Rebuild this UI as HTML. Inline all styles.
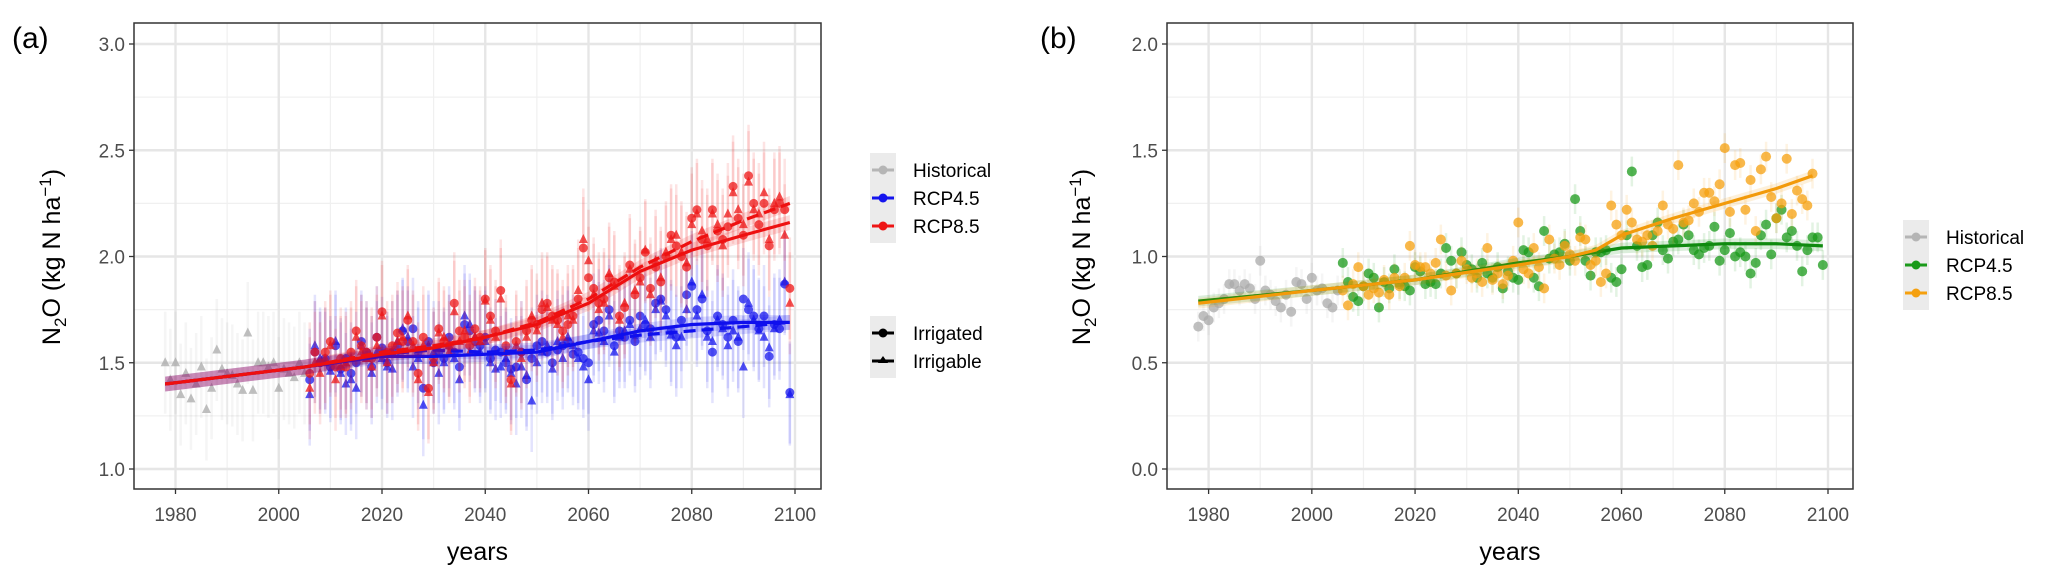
<!DOCTYPE html>
<html><head><meta charset="utf-8">
<style>
html,body{margin:0;padding:0;background:#fff;}
svg{display:block;font-family:"Liberation Sans",sans-serif;}
</style></head>
<body>
<svg id="chart" width="2067" height="584" viewBox="0 0 2067 584" xmlns="http://www.w3.org/2000/svg"></svg>
<script>
// ---------- Panel A data ----------
const histYearsA0 = 1978;
const histA = [1.50,1.42,1.50,1.35,1.45,1.33,1.40,1.48,1.28,1.38,1.56,1.47,1.45,1.44,1.40,1.37,1.64,1.37,1.50,1.50,1.48,1.50,1.38,1.47,1.45,1.43,1.50,1.45];
const futStart = 2006;
const rcp45IrrigatedA = [1.42,1.55,1.50,1.52,1.48,1.58,1.47,1.52,1.45,1.50,1.60,1.55,1.48,1.62,1.57,1.50,1.55,1.58,1.65,1.60,1.66,1.55,1.38,1.60,1.50,1.55,1.52,1.62,1.55,1.48,1.68,1.65,1.60,1.58,1.62,1.52,1.56,1.55,1.50,1.47,1.48,1.55,1.42,1.52,1.58,1.60,1.55,1.50,1.56,1.58,1.60,1.54,1.55,1.52,1.50,1.68,1.70,1.65,1.75,1.58,1.65,1.62,1.70,1.60,1.72,1.68,1.66,1.78,1.80,1.75,1.65,1.62,1.70,1.82,1.86,1.75,1.80,1.65,1.55,1.72,1.68,1.62,1.70,1.60,1.80,1.75,1.72,1.66,1.72,1.53,1.68,1.66,1.87,1.36];
const rcp45IrrigableA = [1.35,1.58,1.52,1.50,1.46,1.60,1.45,1.40,1.42,1.38,1.58,1.52,1.45,1.55,1.52,1.48,1.47,1.60,1.66,1.62,1.48,1.52,1.30,1.58,1.55,1.45,1.50,1.58,1.52,1.42,1.72,1.68,1.62,1.55,1.60,1.50,1.47,1.48,1.52,1.45,1.40,1.48,1.44,1.32,1.50,1.55,1.58,1.47,1.60,1.52,1.62,1.58,1.52,1.48,1.42,1.65,1.64,1.60,1.72,1.55,1.62,1.65,1.68,1.63,1.66,1.70,1.62,1.75,1.79,1.72,1.63,1.58,1.62,1.75,1.88,1.72,1.82,1.62,1.60,1.70,1.66,1.58,1.65,1.62,1.48,1.78,1.70,1.65,1.62,1.57,1.66,1.70,1.88,1.35];
const rcp85IrrigatedA = [1.45,1.55,1.50,1.55,1.60,1.48,1.52,1.48,1.55,1.65,1.58,1.55,1.52,1.62,1.74,1.55,1.58,1.64,1.60,1.70,1.60,1.45,1.62,1.38,1.52,1.66,1.60,1.58,1.78,1.65,1.62,1.58,1.66,1.62,1.80,1.72,1.65,1.84,1.58,1.42,1.60,1.55,1.65,1.70,1.68,1.75,1.78,1.72,1.70,1.65,1.68,1.72,1.80,2.04,1.90,1.85,1.78,1.80,1.90,1.88,1.72,1.76,1.96,1.82,1.90,2.02,1.85,1.95,1.88,2.00,2.10,2.05,2.00,1.95,2.18,2.22,2.08,2.05,2.22,2.12,2.08,2.14,2.33,2.18,2.10,2.38,2.25,2.15,2.25,2.05,2.22,2.25,2.22,1.85];
const rcp85IrrigableA = [1.38,1.50,1.45,1.52,1.58,1.42,1.48,1.50,1.52,1.62,1.55,1.52,1.48,1.58,1.72,1.50,1.55,1.60,1.62,1.72,1.58,1.42,1.58,1.36,1.50,1.64,1.62,1.55,1.74,1.60,1.65,1.55,1.62,1.60,1.79,1.70,1.62,1.80,1.55,1.40,1.58,1.52,1.62,1.72,1.65,1.78,1.76,1.70,1.68,1.62,1.72,1.70,1.84,2.08,1.98,1.82,1.75,1.78,1.92,1.86,1.70,1.78,1.94,1.84,1.88,2.03,1.82,1.98,1.90,2.02,2.08,2.10,2.02,1.97,2.15,2.20,2.12,2.08,2.20,2.15,2.05,2.20,2.30,2.22,2.15,2.35,2.22,2.20,2.30,2.08,2.25,2.28,2.10,1.78];
const fitYearsA = [1978,2005,2020,2030,2040,2050,2060,2070,2080,2090,2099];
const fit45SolidA = [1.40,1.48,1.53,1.53,1.54,1.55,1.60,1.65,1.68,1.69,1.69];
const fit45DashA  = [1.40,1.48,1.54,1.56,1.55,1.56,1.60,1.63,1.65,1.67,1.69];
const fit85SolidA = [1.40,1.48,1.54,1.57,1.62,1.68,1.78,1.93,2.03,2.10,2.16];
const fit85DashA  = [1.40,1.48,1.55,1.58,1.62,1.69,1.80,1.95,2.07,2.17,2.25];
const errA = [0.24];
// ---------- Panel B data ----------
const histB = [0.67,0.72,0.70,0.76,0.78,0.80,0.87,0.87,0.84,0.87,0.85,0.80,0.98,0.84,0.82,0.79,0.76,0.82,0.74,0.88,0.87,0.80,0.90,0.84,0.85,0.78,0.76,0.84];
const rcp45B = [0.97,0.88,0.81,0.79,0.86,0.92,0.90,0.76,0.88,0.85,0.94,0.87,0.86,0.84,0.95,0.93,0.87,0.88,0.87,0.92,1.04,0.98,0.92,1.02,0.96,0.94,0.90,0.97,0.92,0.90,0.95,0.85,0.93,0.90,0.89,1.03,1.02,0.90,0.86,1.12,0.99,1.01,1.02,1.06,0.98,1.27,1.12,0.98,0.91,1.02,1.02,1.03,0.90,0.88,0.94,1.10,1.40,1.05,0.95,0.96,1.10,1.16,1.03,0.99,1.07,1.08,1.15,1.10,1.03,1.01,1.04,1.05,1.14,0.98,1.03,1.11,1.00,1.02,1.00,0.92,0.97,1.10,1.15,1.01,1.18,1.22,1.09,1.12,1.05,0.93,1.03,1.09,1.09,0.96];
const rcp85B = [0.84,0.77,0.87,0.95,0.86,0.82,0.85,0.83,0.89,0.82,0.90,0.86,0.90,1.05,0.96,0.95,0.95,0.92,0.97,1.08,0.91,0.84,0.92,0.98,0.94,0.90,0.92,0.88,1.04,0.89,0.92,0.87,0.91,0.98,1.16,0.94,0.92,1.04,0.95,0.85,1.08,0.99,0.96,1.05,1.01,0.98,1.09,1.08,0.96,0.98,0.88,0.92,1.24,1.15,1.10,1.22,1.16,1.08,1.07,1.10,1.05,1.12,1.24,1.15,1.13,1.43,1.16,1.17,1.25,1.21,1.30,1.30,1.26,1.34,1.51,1.21,1.43,1.44,1.22,1.36,1.12,1.41,1.47,1.28,1.18,1.25,1.46,1.20,1.31,1.27,1.24,1.39];
const fitYears45B = [1978,2000,2020,2040,2050,2060,2070,2080,2090,2099];
const fit45B = [0.79,0.84,0.89,0.97,1.00,1.04,1.05,1.06,1.06,1.05];
const fitYears85B = [1978,2000,2020,2040,2050,2055,2060,2070,2080,2090,2097];
const fit85B = [0.78,0.84,0.89,0.96,1.00,1.03,1.10,1.18,1.25,1.32,1.38];
const errB = [0.07];
const yTicksA = ["1.0","1.5","2.0","2.5","3.0"];
const yTicksB = ["0.0","0.5","1.0","1.5","2.0"];
const xTicks = [1980,2000,2020,2040,2060,2080,2100];

const NS="http://www.w3.org/2000/svg";
const svg=document.getElementById('chart');
function el(tag,attrs,parent,text){const e=document.createElementNS(NS,tag);for(const k in attrs)e.setAttribute(k,attrs[k]);if(text!==undefined)e.textContent=text;(parent||svg).appendChild(e);return e;}

function panel(cfg){
  const g=el('g',{});
  
  
  const L=cfg.left,R=cfg.right,T=23,B=489;
  const sx=y=>cfg.x1980+(y-1980)*(cfg.x2100-cfg.x1980)/120;
  const sy=v=>469-(v-cfg.ymin)*(425/(cfg.ymax-cfg.ymin));
  for(let v=cfg.ymin+ (cfg.ymax-cfg.ymin)/8; v<cfg.ymax+0.3; v+=(cfg.ymax-cfg.ymin)/4){const y=sy(v);if(y>T&&y<B)el('line',{x1:L,x2:R,y1:y,y2:y,stroke:'#f0f0f0','stroke-width':1.2},g);}
  for(let yr=1970;yr<=2110;yr+=20){const x=sx(yr);if(x>L&&x<R)el('line',{x1:x,x2:x,y1:T,y2:B,stroke:'#f0f0f0','stroke-width':1.2},g);}
  cfg.yTicks.forEach(t=>{const y=sy(+t);const gl=el('line',{x1:L,x2:R,y1:y,y2:y,stroke:'#e6e6e6','stroke-width':2.4},g);
    
    el('line',{x1:L-5,x2:L,y1:y,y2:y,stroke:'#333','stroke-width':1.3},g);
    const tl=el('text',{x:L-9,y:y+7,'text-anchor':'end','font-size':19,fill:'#4d4d4d'},g,t);
    });
  xTicks.forEach(t=>{const x=sx(t);el('line',{x1:x,x2:x,y1:T,y2:B,stroke:'#e6e6e6','stroke-width':2.4},g);
    el('line',{x1:x,x2:x,y1:B,y2:B+5,stroke:'#333','stroke-width':1.3},g);
    const tl=el('text',{x:x,y:521,'text-anchor':'middle','font-size':19,fill:'#4d4d4d'},g,t);
    });
  cfg.draw(g,sx,sy);
  el('rect',{x:L,y:T,width:R-L,height:B-T,fill:'none',stroke:'#333','stroke-width':1.5},g);
  const pl=el('text',{x:cfg.labelX,y:48,'font-size':30,fill:'#000'},g,cfg.label);
  
  const xt=el('text',{x:(L+R)/2,y:560,'text-anchor':'middle','font-size':25,fill:'#000'},g,'years');
  
  const yt=el('text',{transform:`translate(${cfg.ytX},257) rotate(-90)`,'text-anchor':'middle','font-size':25,fill:'#000'},g);
  
  yt.innerHTML='N<tspan font-size="17" dy="6">2</tspan><tspan dy="-6">O (kg N ha</tspan><tspan font-size="17" dy="-9">−1</tspan><tspan dy="9">)</tspan>';
  return g;
}
function pts(g,data,start,color,shape,err,sx,sy,r,name){
  data.forEach((v,i)=>{const x=sx(start+i);
    el('line',{x1:x,x2:x,y1:sy(v-err),y2:sy(v+err),stroke:color,'stroke-opacity':0.12,'stroke-width':2.5},g);});
  data.forEach((v,i)=>{const x=sx(start+i),y=sy(v);let m;
    if(shape==='c')m=el('circle',{cx:x,cy:y,r:r,fill:color,'fill-opacity':0.75},g);
    else m=el('polygon',{points:`${x},${y-r-1} ${x-r},${y+r-1} ${x+r},${y+r-1}`,fill:color,'fill-opacity':0.75},g);
    
    });
}
function fit(g,years,vals,color,sx,sy,band,dash,name){
  let up='',dn='';years.forEach((yr,i)=>{up+=(i?'L':'M')+sx(yr)+','+sy(vals[i]+band);});
  for(let i=years.length-1;i>=0;i--)dn+='L'+sx(years[i])+','+sy(vals[i]-band);
  el('path',{d:up+dn+'Z',fill:color,'fill-opacity':0.15,stroke:'none'},g);
  let d='';years.forEach((yr,i)=>{d+=(i?'L':'M')+sx(yr)+','+sy(vals[i]);});
  const p=el('path',{d:d,fill:'none',stroke:color,'stroke-width':3.2,'stroke-dasharray':dash?'12,6':'none','stroke-linejoin':'round'},g);
  
}
function legend(g,x,items,boxY){
  const h=items.length*28+6;
  el('rect',{x:x,y:boxY,width:26,height:h,fill:'#ebebeb'},g);
  items.forEach((it,i)=>{const y=boxY+17+i*28;
    const li=el('g',{},g);
    el('line',{x1:x+2,x2:x+24,y1:y,y2:y,stroke:it.c,'stroke-width':3},li);
    if(it.s==='t')el('polygon',{points:`${x+13},${y-5} ${x+8},${y+2} ${x+18},${y+2}`,fill:it.c},li);
    else el('circle',{cx:x+13,cy:y,r:4.5,fill:it.c},li);
    el('text',{x:x+43,y:y+7,'font-size':19,fill:'#000'},li,it.t);});
}
panel({name:'panel-a',left:134,right:821,x1980:175.5,x2100:795,ymin:1,ymax:3,yTicks:yTicksA,label:'(a)',labelX:12,ytX:60,
 draw:(g,sx,sy)=>{
  pts(g,histA,histYearsA0,'#a9a9a9','t',errA[0],sx,sy,4.5,'historical-point');
  pts(g,rcp45IrrigatedA,futStart,'#1515ee','c',errA[0],sx,sy,4.5,'rcp45-irrigated-point');
  pts(g,rcp45IrrigableA,futStart,'#1515ee','t',errA[0],sx,sy,4.5,'rcp45-irrigable-point');
  pts(g,rcp85IrrigatedA,futStart,'#ee1515','c',errA[0],sx,sy,4.5,'rcp85-irrigated-point');
  pts(g,rcp85IrrigableA,futStart,'#ee1515','t',errA[0],sx,sy,4.5,'rcp85-irrigable-point');
  fit(g,fitYearsA,fit45SolidA,'#1010ee',sx,sy,0.035,false,'rcp45-irrigated-fit');
  fit(g,fitYearsA,fit45DashA,'#1010ee',sx,sy,0.035,true,'rcp45-irrigable-fit');
  fit(g,fitYearsA,fit85SolidA,'#ee1010',sx,sy,0.035,false,'rcp85-irrigated-fit');
  fit(g,fitYearsA,fit85DashA,'#ee1010',sx,sy,0.035,true,'rcp85-irrigable-fit');
 }});
panel({name:'panel-b',left:1167,right:1853,x1980:1208.6,x2100:1828,ymin:0,ymax:2,yTicks:yTicksB,label:'(b)',labelX:1040,ytX:1090,
 draw:(g,sx,sy)=>{
  pts(g,histB,1978,'#a9a9a9','c',errB[0],sx,sy,5,'historical-point');
  pts(g,rcp45B,futStart,'#1a9a1a','c',errB[0],sx,sy,5,'rcp45-point');
  pts(g,rcp85B,futStart,'#f5a00f','c',errB[0],sx,sy,5,'rcp85-point');
  fit(g,fitYears45B,fit45B,'#0f8a0f',sx,sy,0.025,false,'rcp45-fit');
  fit(g,fitYears85B,fit85B,'#f29a0a',sx,sy,0.025,false,'rcp85-fit');
 }});
const lg=el('g',{});
legend(lg,870,[{t:'Historical',c:'#b5b5b5'},{t:'RCP4.5',c:'#1515ee'},{t:'RCP8.5',c:'#ee1515'}],153);
legend(lg,870,[{t:'Irrigated',c:'#000',s:'c'},{t:'Irrigable',c:'#000',s:'t'}],316);
const lg2=el('g',{});
legend(lg2,1903,[{t:'Historical',c:'#b5b5b5'},{t:'RCP4.5',c:'#1a9a1a'},{t:'RCP8.5',c:'#f5a00f'}],220);
</script>
</body></html>
